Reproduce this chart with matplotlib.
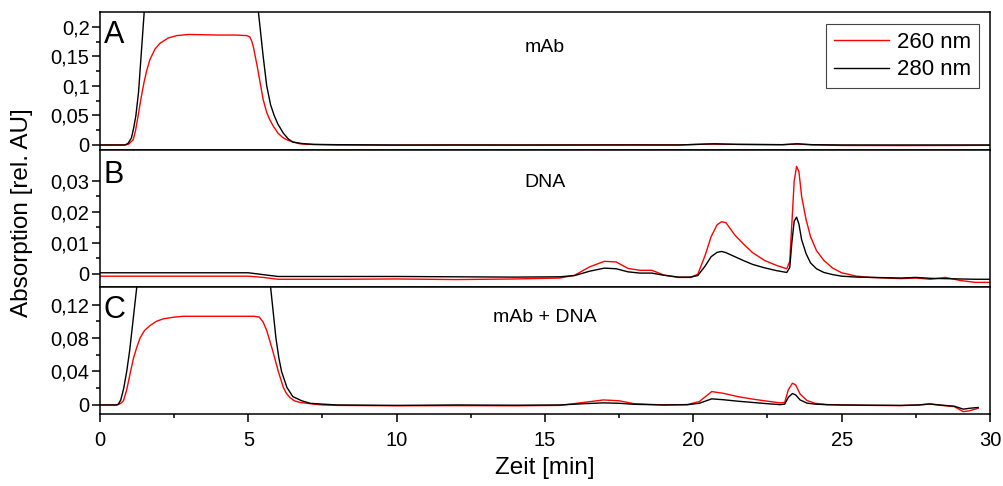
"""Chromatogram panels (mAb, DNA, mAb + DNA) at 260 nm and 280 nm."""

import matplotlib

matplotlib.use("Agg")
import matplotlib.pyplot as plt
from matplotlib.ticker import FixedLocator, FuncFormatter, MultipleLocator

plt.rcParams["font.family"] = ["Liberation Sans", "DejaVu Sans"]

RED = "#ff0000"

# --- panel A: mAb -------------------------------------------------------
t_a_260 = [0, 0.8, 0.95, 1.0, 1.12, 1.2, 1.28, 1.38, 1.48, 1.58, 1.68, 1.85, 2.02,
           2.3, 2.58, 3.0, 4.0, 4.6, 4.95, 5.05, 5.12, 5.17, 5.3, 5.4, 5.5, 5.62,
           5.72, 5.84, 6.0, 6.15, 6.29, 6.5, 6.74, 7.0, 8, 10, 12, 14, 16, 18, 19.5,
           20.5, 21.5, 23, 23.5, 24, 25, 27, 29, 30]
v_a_260 = [0, 0, 0.001, 0.003, 0.009, 0.025, 0.048, 0.078, 0.105, 0.127, 0.144,
           0.162, 0.172, 0.181, 0.185, 0.187, 0.186, 0.186, 0.185, 0.183, 0.175,
           0.166, 0.133, 0.105, 0.077, 0.055, 0.043, 0.032, 0.02, 0.013, 0.009,
           0.005, 0.002, 0.001, 0, -0.0005, 0, -0.0003, 0, 0.0003, 0, 0.0015, 0.001,
           0.0005, 0.0015, 0.0002, -0.0008, -0.001, -0.0008, -0.0005]
t_a_280 = [0, 0.85, 0.95, 1.06, 1.14, 1.21, 1.3, 1.49, 1.7, 5.1, 5.34, 5.5, 5.62,
           5.75, 5.87, 6.0, 6.18, 6.35, 6.5, 6.8, 7.2, 8, 10, 12, 14, 16, 18, 19.5,
           20.7, 21.5, 23, 23.5, 24, 25, 27, 29, 30]
v_a_280 = [0, 0, 0.003, 0.012, 0.03, 0.05, 0.09, 0.225, 0.30, 0.30, 0.225, 0.15,
           0.1, 0.068, 0.05, 0.035, 0.02, 0.01, 0.005, 0.0025, 0.001, 0.0005, 0, 0,
           0, 0, 0, 0, 0.002, 0.001, 0.0005, 0.002, 0.0005, 0, 0, 0, 0]

# --- panel B: DNA -------------------------------------------------------
t_b = [0, 2, 4, 5.0, 5.5, 6.0, 8, 10, 12, 14, 15.5, 16.0, 16.5, 17.0, 17.4, 17.8,
       18.2, 18.6, 19.0, 19.5, 19.9, 20.15, 20.4, 20.6, 20.8, 20.95, 21.1, 21.4,
       21.7, 22.0, 22.4, 22.8, 23.15, 23.25, 23.32, 23.4, 23.48, 23.56, 23.65, 23.8,
       23.95, 24.15, 24.4, 24.7, 25.0, 25.5, 26, 27, 27.5, 28, 28.5, 29, 29.5, 30]
v_b_260 = [-0.0008, -0.0008, -0.0008, -0.0008, -0.0012, -0.0018, -0.0018, -0.0017,
           -0.0019, -0.0017, -0.0014, -0.0005, 0.0022, 0.0040, 0.0038, 0.0017,
           0.0011, 0.0011, -0.0004, -0.0012, -0.0012, -0.0002, 0.006, 0.012, 0.0158,
           0.0168, 0.0165, 0.0125, 0.0095, 0.0068, 0.0043, 0.0027, 0.0016, 0.004,
           0.016, 0.030, 0.0347, 0.033, 0.025, 0.0175, 0.012, 0.0075, 0.0043, 0.0018,
           0.0003, -0.0008, -0.0012, -0.0016, -0.0014, -0.0018, -0.0012, -0.0022,
           -0.0028, -0.0028]
v_b_280 = [0.0003, 0.0003, 0.0003, 0.0003, -0.0003, -0.0009, -0.0009, -0.0009,
           -0.001, -0.0011, -0.001, -0.0006, 0.0008, 0.0018, 0.0016, 0.0006, 0.0002,
           0.0002, -0.0005, -0.0011, -0.0011, -0.0006, 0.0025, 0.0055, 0.0069,
           0.0072, 0.0068, 0.0055, 0.0042, 0.0030, 0.0019, 0.0010, 0.0004, 0.002,
           0.010, 0.017, 0.0183, 0.016, 0.011, 0.0065, 0.0035, 0.0016, 0.0004,
           -0.0003, -0.0008, -0.0011, -0.0012, -0.0014, -0.0012, -0.0015, -0.0016,
           -0.0017, -0.0018, -0.0018]

# --- panel C: mAb + DNA -------------------------------------------------
t_c_260 = [0, 0.55, 0.62, 0.7, 0.79, 0.9, 1.03, 1.13, 1.24, 1.35, 1.5, 1.69, 1.9,
           2.14, 2.5, 2.81, 3.5, 4.5, 5.2, 5.37, 5.5, 5.62, 5.72, 5.82, 5.92, 6.01,
           6.1, 6.18, 6.28, 6.4, 6.55, 6.74, 7.2, 7.5, 8, 10, 12, 14, 15.5, 16.3,
           16.97, 17.5, 18, 19, 19.8, 20.2, 20.62, 21, 21.5, 22, 22.5, 22.92, 23.08,
           23.2, 23.34, 23.45, 23.6, 23.83, 24.1, 24.5, 25, 26, 27, 27.6, 27.97,
           28.3, 28.8, 29.1, 29.3, 29.6]
v_c_260 = [0, 0, 0.0005, 0.002, 0.005, 0.018, 0.040, 0.056, 0.069, 0.08, 0.089,
           0.095, 0.1, 0.103, 0.105, 0.106, 0.106, 0.106, 0.106, 0.105, 0.099,
           0.089, 0.077, 0.065, 0.052, 0.040, 0.030, 0.021, 0.014, 0.009, 0.005,
           0.003, 0.001, 0, -0.0005, -0.001, -0.0008, -0.001, -0.0005, 0.003, 0.006,
           0.005, 0.0015, 0, 0.0005, 0.004, 0.016, 0.014, 0.01, 0.007, 0.0045,
           0.0025, 0.003, 0.018, 0.026, 0.024, 0.013, 0.0054, 0.002, 0.0005, 0,
           -0.0005, -0.0008, 0, 0.0012, -0.0003, -0.002, -0.008, -0.007, -0.004]
t_c_280 = [0, 0.55, 0.62, 0.7, 0.8, 0.9, 1.0, 1.24, 1.5, 5.5, 5.75, 5.93, 6.03,
           6.12, 6.3, 6.5, 6.8, 7.08, 7.5, 8, 10, 12, 14, 15.5, 16.3, 16.97, 17.5,
           18, 19, 19.8, 20.2, 20.62, 21, 21.5, 22, 22.5, 22.92, 23.08, 23.2, 23.34,
           23.45, 23.6, 23.83, 24.1, 24.5, 25, 26, 27, 27.6, 27.97, 28.3, 28.8, 29.1,
           29.3, 29.6]
v_c_280 = [0, 0, 0.001, 0.006, 0.02, 0.04, 0.065, 0.141, 0.2, 0.2, 0.141, 0.08,
           0.056, 0.04, 0.021, 0.01, 0.005, 0.002, 0.001, 0, -0.0005, 0, -0.0003, 0,
           0.0015, 0.0025, 0.002, 0.0008, 0, 0.0003, 0.002, 0.0073, 0.0063, 0.0045,
           0.003, 0.0015, 0.0004, 0.001, 0.009, 0.0137, 0.012, 0.006, 0.0022, 0.001,
           0.0003, 0, -0.0003, -0.0005, 0, 0.0012, 0, -0.0015, -0.005, -0.004, -0.003]

# y ticks per panel
yt_a = [0, 0.05, 0.1, 0.15, 0.2]
ym_a = [0.025, 0.075, 0.125, 0.175]
yt_b = [0, 0.01, 0.02, 0.03]
ym_b = [0.005, 0.015, 0.025]
yt_c = [0, 0.04, 0.08, 0.12]
ym_c = [0.02, 0.06, 0.1]

PANELS = [
    # letter, label, 260 nm, 280 nm, ylim, major ticks, minor ticks
    ("A", "mAb", (t_a_260, v_a_260), (t_a_280, v_a_280), (-0.0085, 0.225), yt_a, ym_a),
    ("B", "DNA", (t_b, v_b_260), (t_b, v_b_280), (-0.0043, 0.040), yt_b, ym_b),
    ("C", "mAb + DNA", (t_c_260, v_c_260), (t_c_280, v_c_280), (-0.0108, 0.141), yt_c, ym_c),
]

W, H = 1004, 486
LEFT, RIGHT = 100, 990
EDGES = [12, 150, 287, 414]
LETTER_BASE = {"A": 43, "B": 183, "C": 318}
LABEL_BASE = {"A": 52, "B": 187, "C": 322}

comma = FuncFormatter(lambda v, _: ("%g" % round(v, 6)).replace(".", ","))

fig = plt.figure(figsize=(W / 100, H / 100), dpi=100)
for i, (letter, label, red, black, ylim, major, minor) in enumerate(PANELS):
    top, bottom = EDGES[i], EDGES[i + 1]
    ax = fig.add_axes([LEFT / W, 1 - bottom / H, (RIGHT - LEFT) / W, (bottom - top) / H])
    l260, = ax.plot(*red, color=RED, lw=1.0)
    l280, = ax.plot(*black, color="black", lw=1.0)
    ax.set_xlim(0, 30)
    ax.set_ylim(*ylim)
    ax.yaxis.set_major_locator(FixedLocator(major))
    ax.yaxis.set_minor_locator(FixedLocator(minor))
    ax.yaxis.set_major_formatter(comma)
    ax.xaxis.set_major_locator(MultipleLocator(5))
    ax.xaxis.set_minor_locator(MultipleLocator(2.5))
    ax.tick_params(which="both", direction="out", labelsize=14.5, width=1.1, pad=2)
    ax.tick_params(which="major", length=5.5)
    ax.tick_params(which="minor", length=3)
    for s in ax.spines.values():
        s.set_linewidth(1.1)
    if i < 2:
        ax.tick_params(axis="x", which="both", bottom=False, labelbottom=False)
    else:
        ax.tick_params(axis="x", which="both", pad=7)
    h = bottom - top
    ax.text(0.004, (bottom - LETTER_BASE[letter]) / h, letter, transform=ax.transAxes,
            fontsize=22, va="baseline", ha="left")
    ax.text(0.5, (bottom - LABEL_BASE[letter]) / h, label, transform=ax.transAxes,
            fontsize=14, va="baseline", ha="center")
    if i == 0:
        leg = ax.legend([l260, l280], ["260 nm", "280 nm"], loc="upper right",
                        bbox_to_anchor=((979 - LEFT) / (RIGHT - LEFT), (bottom - 24) / h),
                        borderaxespad=0, fontsize=16, fancybox=False, framealpha=1,
                        edgecolor="#444444", handlelength=2.5, handletextpad=0.35,
                        labelspacing=0.3, borderpad=0.35)
        leg.get_frame().set_linewidth(0.8)

fig.text(22 / W, 1 - 213 / H, "Absorption [rel. AU]", rotation=90, fontsize=17.5,
         ha="center", va="center")
fig.text((LEFT + RIGHT) / 2 / W, 1 - 468 / H, "Zeit [min]", fontsize=17.5,
         ha="center", va="center")

fig.savefig("out.png", dpi=100)
